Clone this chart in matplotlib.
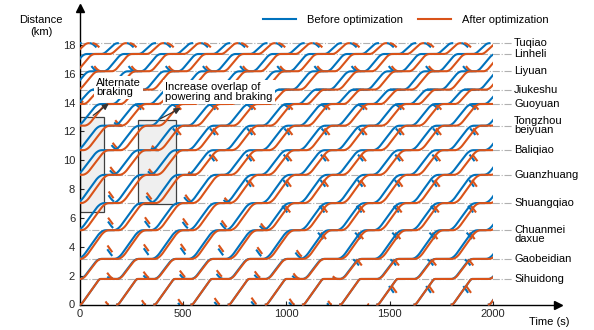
import numpy as np
import matplotlib
matplotlib.use('Agg')
import matplotlib.pyplot as plt
from matplotlib.patches import Rectangle

plt.rcParams['font.family'] = ['Liberation Sans', 'DejaVu Sans']
plt.rcParams['font.size'] = 8

BLUE = '#0072BD'
ORANGE = '#D95319'

# stations along the line (km)
station_km = [0.0, 1.77, 3.16, 5.15, 7.03, 8.99, 10.70, 12.40, 13.90, 14.90, 16.17, 17.37, 18.12]
station_names = ['', 'Sihuidong', 'Gaobeidian', 'Chuanmei\ndaxue', 'Shuangqiao', 'Guanzhuang',
                 'Baliqiao', 'Tongzhou\nbeiyuan', 'Guoyuan', 'Jiukeshu', 'Liyuan', 'Linheli', 'Tuqiao']

# running time of each section, up direction (s)
run_up = [100, 105, 140, 135, 140, 130, 130, 120, 90, 105, 100, 80]
# share of each run spent accelerating / braking
acc_up = [0.12, 0.3, 0.3, 0.3, 0.3, 0.3, 0.3, 0.3, 0.3, 0.3, 0.3, 0.3]
# dwell at intermediate stations (s)
dwell_up_before = [77, 63, 37, 39, 39, 53, 53, 55, 60, 62, 70]
dwell_up_after = [80, 75, 45, 45, 45, 55, 55, 55, 60, 62, 70]

# running / dwell, down direction (Tuqiao -> start)
run_down = [80, 100, 105, 90, 120, 130, 130, 140, 135, 140, 105, 100]
acc_down = [0.3, 0.3, 0.3, 0.3, 0.3, 0.3, 0.3, 0.3, 0.3, 0.3, 0.3, 0.12]
dwell_down = [45, 50, 45, 55, 45, 40, 45, 45, 40, 45, 50]

# departure times from the terminal (s)
up_depart_before = [-2160, -1980, -1800, -1620, -1440, -1260, -1080, -900, -720, -540, -360, -180, 0,
                    180, 360, 540, 720, 900, 1080, 1260, 1440, 1620, 1800, 1980]
up_depart_after = [-2160, -1980, -1800, -1620, -1440, -1260, -1080, -900, -720, -540, -360, -180, 0,
                   180, 360, 540, 720, 900, 1080, 1260, 1440, 1620, 1800, 1980]
down_depart_before = [-2114, -1934, -1754, -1574, -1394, -1214, -1034, -854, -674, -494, -314, -134,
                      46, 226, 406, 586, 766, 946, 1126, 1306, 1486, 1666, 1846]
down_depart_after = [-2100, -1920, -1740, -1560, -1380, -1200, -1020, -840, -660, -480, -300, -120,
                     60, 240, 420, 600, 780, 960, 1140, 1320, 1500, 1680, 1860]


def section(t0, T, d0, d1, acc, n=40):
    """Trapezoidal speed profile between two stations."""
    u = np.linspace(0, 1, n)
    v = 1 / (1 - acc)
    s = np.where(u < acc, v * u ** 2 / (2 * acc),
                 np.where(u > 1 - acc, 1 - v * (1 - u) ** 2 / (2 * acc), v * (u - acc / 2)))
    return t0 + u * T, d0 + (d1 - d0) * s


def trajectory(t_start, stops, runs, accs, dwells):
    ts, ds = [], []
    t = t_start
    for i, T in enumerate(runs):
        tt, dd = section(t, T, stops[i], stops[i + 1], accs[i])
        ts.append(tt)
        ds.append(dd)
        t += T
        if i < len(dwells):
            ts.append(np.array([t, t + dwells[i]]))
            ds.append(np.array([stops[i + 1]] * 2))
            t += dwells[i]
    return np.concatenate(ts), np.concatenate(ds)


fig = plt.figure(figsize=(5.94, 3.30), dpi=100)
ax = fig.add_axes([80 / 594, 25.5 / 330, 478 / 594, 296.5 / 330])
ax.set_xlim(0, 2315)
ax.set_ylim(0, 20.56)

clip = Rectangle((0, -1), 2000, 20, transform=ax.transData)

# station reference lines and names
for km, name in zip(station_km[1:], station_names[1:]):
    ax.plot([0, 2092], [km, km], color='#b0b0b0', lw=0.8, ls='-.', zorder=1)
    va = 'top' if name.startswith('Chuanmei') else 'center'
    y = km + 0.38 if va == 'top' else km
    ax.text(2102, y, name, va=va, ha='left', fontsize=8, linespacing=0.95)

# highlighted regions
ax.add_patch(Rectangle((0, 6.41), 116, 6.59, facecolor='#efefef', edgecolor='#404040', lw=0.9, zorder=1.5))
ax.add_patch(Rectangle((281, 6.97), 184, 5.83, facecolor='#efefef', edgecolor='#404040', lw=0.9, zorder=1.5))

down_stops = station_km[::-1]
dash = (0, (4, 19))
for t0 in down_depart_before:
    t, d = trajectory(t0, down_stops, run_down, acc_down, dwell_down)
    ln, = ax.plot(t, d, color=BLUE, lw=1.5, ls=dash, zorder=2)
    ln.set_clip_path(clip)
for t0 in down_depart_after:
    t, d = trajectory(t0, down_stops, run_down, acc_down, dwell_down)
    ln, = ax.plot(t, d, color=ORANGE, lw=1.5, ls=dash, zorder=2.1)
    ln.set_clip_path(clip)

for t0 in up_depart_before:
    t, d = trajectory(t0, station_km, run_up, acc_up, dwell_up_before)
    ln_b, = ax.plot(t, d, color=BLUE, lw=1.5, zorder=3)
    ln_b.set_clip_path(clip)
for t0 in up_depart_after:
    t, d = trajectory(t0, station_km, run_up, acc_up, dwell_up_after)
    ln_a, = ax.plot(t, d, color=ORANGE, lw=1.5, zorder=3.1)
    ln_a.set_clip_path(clip)

# axes with arrow heads
for side in ['top', 'right']:
    ax.spines[side].set_visible(False)
ax.spines['left'].set_linewidth(1.0)
ax.spines['bottom'].set_linewidth(1.0)
ax.plot(1, 0, '>k', ms=6, transform=ax.transAxes, clip_on=False)
ax.plot(0, 1, '^k', ms=6, transform=ax.transAxes, clip_on=False)
ax.set_xticks([0, 500, 1000, 1500, 2000])
ax.set_yticks(range(0, 19, 2))
ax.tick_params(direction='in', length=3, labelsize=8, colors='#262626')

fig.text(41 / 594, 1 - 26 / 330, 'Distance\n(km)', ha='center', va='center', fontsize=8, linespacing=1.3)
fig.text(549 / 594, 1 - 322 / 330, 'Time (s)', ha='center', va='center', fontsize=8)

# annotations
bbox = dict(facecolor='white', edgecolor='none', pad=1.5)
ax.text(78, 15.05, 'Alternate\nbraking', ha='left', va='center', fontsize=8, linespacing=0.95,
        bbox=bbox, zorder=5)
ax.text(412, 14.75, 'Increase overlap of\npowering and braking', ha='left', va='center', fontsize=8,
        linespacing=0.95, bbox=bbox, zorder=5)
arrow = dict(arrowstyle='-|>', color='#333333', lw=0.9, mutation_scale=9)
ax.annotate('', xy=(150, 14.05), xytext=(53, 13.0), arrowprops=arrow, zorder=6)
ax.annotate('', xy=(499, 13.7), xytext=(378, 12.8), arrowprops=arrow, zorder=6)

ax.legend([ln_b, ln_a], ['Before optimization', 'After optimization'], ncol=2, frameon=False,
          loc='center', bbox_to_anchor=(406 / 594, 1 - 20 / 330), bbox_transform=fig.transFigure,
          handlelength=3.0, handletextpad=1.0, columnspacing=1.3, fontsize=8, borderpad=0)

fig.savefig('out.png', dpi=100)
